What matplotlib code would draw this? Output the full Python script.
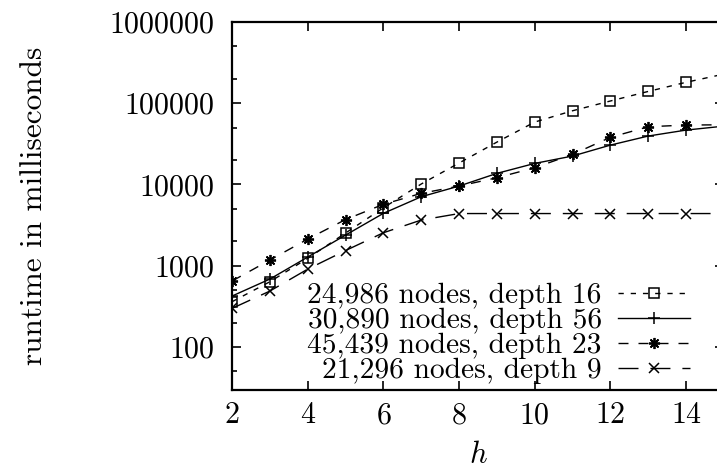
import matplotlib
matplotlib.use("Agg")
import matplotlib.pyplot as plt
from matplotlib.ticker import FixedLocator, FixedFormatter, NullFormatter

plt.rcParams["font.family"] = ["cmr10", "DejaVu Serif"]
plt.rcParams["mathtext.fontset"] = "cm"
plt.rcParams["axes.formatter.use_mathtext"] = True

# runtime (ms) per h
h = [2, 3, 4, 5, 6, 7, 8, 9, 10, 11, 12, 13, 14, 15]
t_24986 = [360, 634, 1230, 2520, 5150, 10100, 18300, 33100, 58400, 80400, 106000, 139000, 180000, 227000]
t_30890 = [423, 684, 1276, 2377, 4400, 7040, 9530, 13650, 18100, 22300, 30400, 39300, 46500, 52000]
t_45439 = [647, 1172, 2123, 3690, 5680, 7750, 9530, 12060, 16000, 23400, 37900, 51100, 53600, 54000]
t_21296 = [298, 487, 907, 1534, 2540, 3640, 4375, 4375, 4375, 4375, 4375, 4375, 4375, 4375]

labels = ["24,986 nodes, depth 16", "30,890 nodes, depth 56",
          "45,439 nodes, depth 23", "21,296 nodes, depth 9"]
y_ticks = [100, 1000, 10000, 100000, 1000000]
y_tick_labels = ["100", "1000", "10000", "100000", "1000000"]
y_minor = [30, 50, 200, 500, 2000, 5000, 20000, 50000, 200000, 500000]
x_ticks = [2, 4, 6, 8, 10, 12, 14]

fig = plt.figure(figsize=(7.17, 4.69), dpi=100)
ax = fig.add_axes([0.3236, 0.1695, 0.6862, 0.7842])

ax.plot(h, t_24986, color="black", lw=1.0, ls=(0, (3.8, 5.0)),
        marker="s", ms=7.0, mfc="none", mec="black", mew=1.1, label=labels[0])
ax.plot(h, t_30890, color="black", lw=1.0, ls="-",
        marker="+", ms=8.0, mew=1.1, label=labels[1])
ax.plot(h, t_45439, color="black", lw=1.0, ls=(0, (7.2, 7.2)),
        marker=(8, 2, 0), ms=8.0, mew=1.3, label=labels[2])
ax.plot(h, t_21296, color="black", lw=1.0, ls=(0, (14.4, 8.6)),
        marker="x", ms=7.0, mew=1.1, label=labels[3])

ax.set_yscale("log")
ax.set_xlim(2, 15)
ax.set_ylim(30, 1000000)

ax.yaxis.set_major_locator(FixedLocator(y_ticks))
ax.yaxis.set_major_formatter(FixedFormatter(y_tick_labels))
ax.yaxis.set_minor_locator(FixedLocator(y_minor))
ax.yaxis.set_minor_formatter(NullFormatter())
ax.xaxis.set_major_locator(FixedLocator(x_ticks))
ax.xaxis.set_minor_locator(FixedLocator([]))

ax.tick_params(which="major", direction="in", length=6.5, width=1.2,
               top=True, right=True, labelsize=21.6, pad=13)
ax.tick_params(axis="x", which="major", pad=9)
ax.tick_params(which="minor", direction="in", length=3.5, width=1.2,
               right=True)
for side in ax.spines.values():
    side.set_linewidth(1.6)

ax.set_ylabel("runtime in milliseconds", fontsize=22.5, labelpad=44)
ax.set_xlabel("$h$", fontsize=22, labelpad=9)

ax.legend(loc="lower right", bbox_to_anchor=(0.931, 0.015), frameon=False,
          markerfirst=False, fontsize=21.2, labelspacing=-0.06,
          handlelength=2.45, handletextpad=0.55, borderpad=0.0,
          borderaxespad=0.0, numpoints=1)

fig.savefig("out.png", dpi=100)
